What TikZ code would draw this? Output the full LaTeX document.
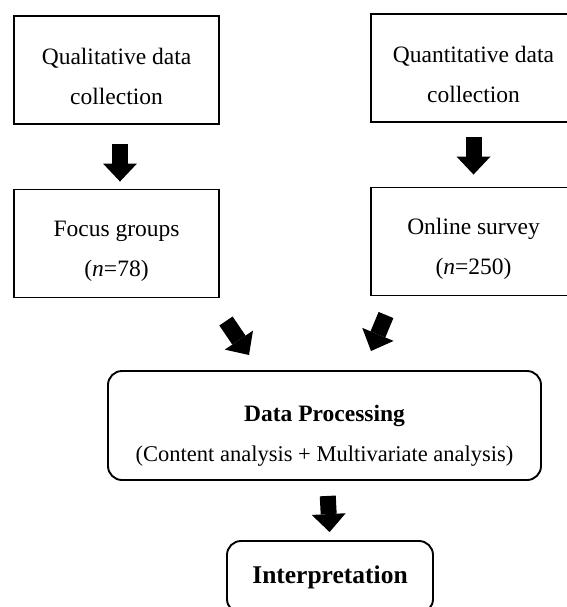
\documentclass[tikz,border=0pt]{standalone}
\usepackage{fontspec}
\setmainfont{Liberation Serif}
\usepackage{tikz}
\usetikzlibrary{arrows.meta}

% pushes the first line of a box down a little
\newcommand{\topgap}[1]{\rule{0pt}{#1}}

\tikzset{
  box/.style={draw, line width=1.9pt, minimum width=205pt, minimum height=108pt,
    align=center, font=\fontsize{23.5}{40}\selectfont},
  roundbox/.style={box, rounded corners=14pt},
  bigarrow/.style={line width=16pt, -{Triangle[width=34pt,length=18pt,line width=0pt]}}
}

\begin{document}
\begin{tikzpicture}[x=1pt, y=-1pt]
\useasboundingbox (0,0) rectangle (566,607);

\node [box] (qual) at (116.5,70) {\topgap{30pt}Qualitative data\\collection};
\node [box] (quant) at (473.5,68) {\topgap{30pt}Quantitative data\\collection};
\node [box] (focus) at (116.5,243.5) {\topgap{30pt}Focus groups\\(\textit{n}=78)};
\node [box] (online) at (473.5,241.5) {\topgap{30pt}Online survey\\(\textit{n}=250)};

\node [roundbox, minimum width=433pt, minimum height=109pt] (dp) at (324.5,425.5)
  {\topgap{36pt}\textbf{Data Processing}\\{\fontsize{22.5}{40}\selectfont (Content analysis + Multivariate analysis)}};
\node [roundbox, minimum width=206pt, minimum height=72pt, font=\fontsize{25.5}{30}\selectfont\bfseries]
  (interp) at (330,577) {Interpretation};

\coordinate (fg out) at (226,321);
\coordinate (dp in l) at (249,355);
\coordinate (os out) at (386,315);
\coordinate (dp in r) at (371,351);

\draw [bigarrow, shorten <=19pt, shorten >=7pt] ([xshift=3.5pt]qual.south) -- ([xshift=3.5pt]focus.north);
\draw [bigarrow, shorten <=14pt, shorten >=12pt] (quant.south) -- (online.north);
\draw [bigarrow] (fg out) -- (dp in l);
\draw [bigarrow] (os out) -- (dp in r);
\draw [bigarrow, shorten <=15pt, shorten >=8pt] ([xshift=2.5pt]dp.south) -- (interp.north);
\end{tikzpicture}
\end{document}
